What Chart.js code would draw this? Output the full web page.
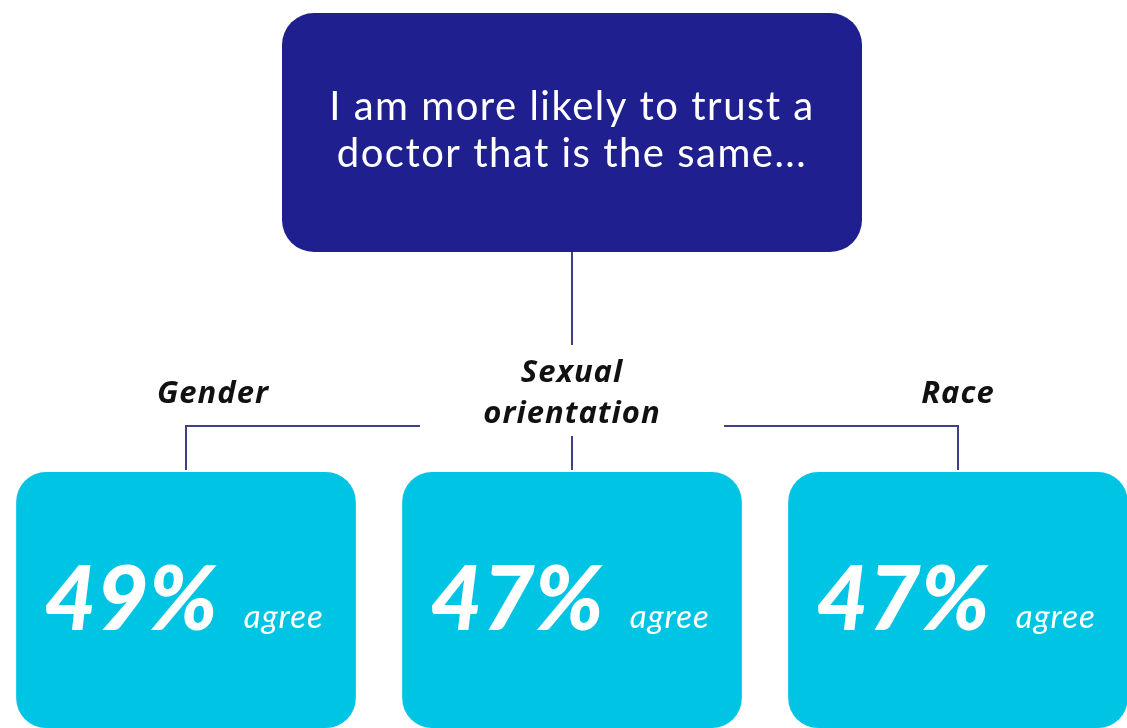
<!DOCTYPE html>
<html>
<head>
<meta charset="utf-8">
<script src="https://cdn.jsdelivr.net/npm/chart.js@4/dist/chart.umd.min.js"></script>
<style>
  html, body { margin: 0; padding: 0; background: #fff; overflow: hidden; width: 1127px; height: 728px; }
  #wrap { position: absolute; left: -7px; top: 0; width: 1158px; height: 728px; }
</style>
</head>
<body>
<div id="wrap"><canvas id="chart"></canvas></div>
<script>
const QUESTION = ["I am more likely to trust a", "doctor that is the same..."];
const CATEGORIES = [["Gender"], ["Sexual", "orientation"], ["Race"]];
const VALUES = [49, 47, 47];
const UNIT = "agree";

const NAVY = "#1f1f8f";
const CYAN = "#00c4e3";
const LINE = "#404085";
const FONT = "Lato, 'Open Sans', sans-serif";
const LABEL_FONT = "'Open Sans', Lato, sans-serif";

// draws the question box, connectors, labels and the numbers inside the boxes
const infographic = {
  id: "infographic",
  afterDatasetsDraw(chart) {
    const ctx = chart.ctx;
    const bars = chart.getDatasetMeta(0).data;
    const centers = CATEGORIES.map((_, i) => chart.scales.x.getPixelForValue(i));
    const mid = centers[1];
    const top = chart.chartArea.top;

    ctx.save();

    // question box
    ctx.fillStyle = NAVY;
    ctx.beginPath();
    ctx.roundRect(mid - 290, 13, 580, 239, 32);
    ctx.fill();
    ctx.fillStyle = "#fff";
    ctx.textAlign = "center";
    ctx.textBaseline = "alphabetic";
    ctx.font = `400 40px ${FONT}`;
    ctx.letterSpacing = "1.5px";
    ctx.fillText(QUESTION[0], mid, 120);
    ctx.fillText(QUESTION[1], mid, 167);
    ctx.letterSpacing = "0px";

    // connectors
    ctx.strokeStyle = LINE;
    ctx.lineWidth = 2;
    ctx.beginPath();
    ctx.moveTo(mid, 252); ctx.lineTo(mid, 345);
    ctx.moveTo(centers[0], top - 2); ctx.lineTo(centers[0], 426); ctx.lineTo(mid - 152, 426);
    ctx.moveTo(mid + 152, 426); ctx.lineTo(centers[2], 426); ctx.lineTo(centers[2], top - 2);
    ctx.moveTo(mid, 436); ctx.lineTo(mid, top - 2);
    ctx.stroke();

    // category labels
    ctx.fillStyle = "#111";
    ctx.font = `italic 700 31px ${LABEL_FONT}`;
    ctx.letterSpacing = "1px";
    const nudge = [27, 0, 0];
    CATEGORIES.forEach((lines, i) => {
      const base = lines.length > 1 ? 382 : 403;
      lines.forEach((t, j) => ctx.fillText(t, centers[i] + nudge[i], base + j * 41));
    });
    ctx.letterSpacing = "0px";

    // values in the boxes
    ctx.fillStyle = "#fff";
    ctx.textAlign = "left";
    bars.forEach((bar, i) => {
      const num = `${VALUES[i]}%`;
      ctx.font = `italic 900 90px ${FONT}`;
      const nw = ctx.measureText(num).width;
      ctx.font = `italic 400 33px ${FONT}`;
      ctx.letterSpacing = "1px";
      const uw = ctx.measureText(UNIT).width;
      const gap = 26;
      const x0 = bar.x - 2 - (nw + gap + uw) / 2;
      const y = top + 158;
      ctx.fillText(UNIT, x0 + nw + gap, y - 2);
      ctx.letterSpacing = "0px";
      ctx.font = `italic 900 90px ${FONT}`;
      ctx.fillText(num, x0, y);
    });

    ctx.restore();
  },
};

new Chart(document.getElementById("chart"), {
  type: "bar",
  data: {
    labels: CATEGORIES,
    datasets: [{
      data: VALUES.map(() => [0, 1]),
      backgroundColor: CYAN,
      borderRadius: 30,
      borderSkipped: false,
      barPercentage: 0.88,
      categoryPercentage: 1,
    }],
  },
  options: {
    responsive: true,
    maintainAspectRatio: false,
    animation: false,
    layout: { padding: { top: 472, left: 0, right: 0, bottom: 0 } },
    plugins: { legend: { display: false }, tooltip: { enabled: false } },
    scales: {
      x: { display: false, offset: true },
      y: { display: false, min: 0, max: 1 },
    },
  },
  plugins: [infographic],
});
</script>
</body>
</html>
